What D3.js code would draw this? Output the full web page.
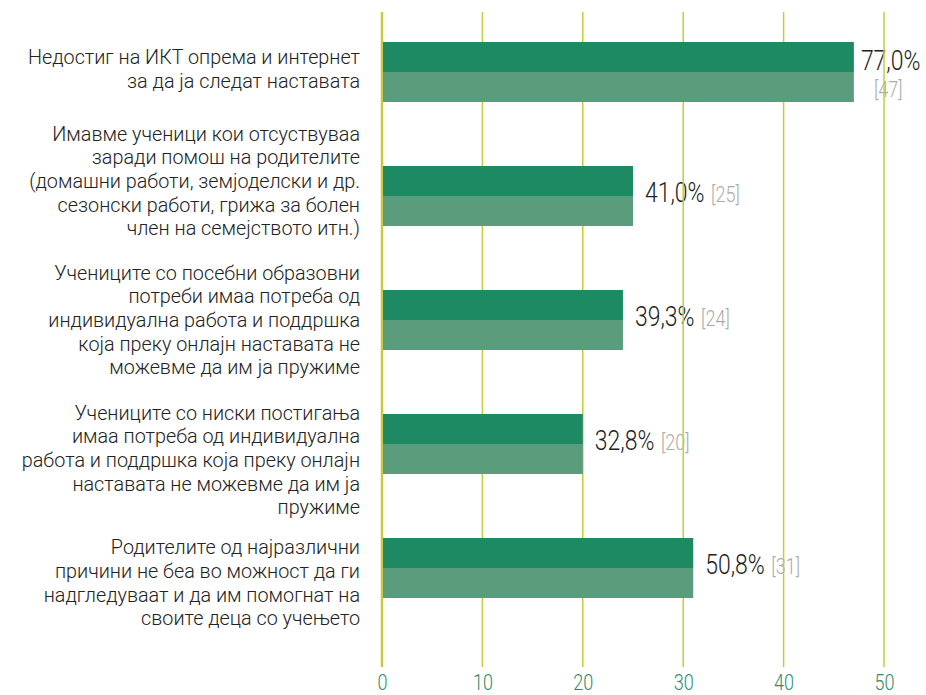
<!DOCTYPE html>
<html><head><meta charset="utf-8">
<script src="https://cdn.jsdelivr.net/npm/d3@7/dist/d3.min.js"></script>
<style>body{margin:0;background:#fff}svg{display:block}</style>
</head><body>
<svg id="c" width="926" height="695"></svg>
<script>
const categories = [
  ["Недостиг на ИКТ опрема и интернет", "за да ја следат наставата"],
  ["Имавме ученици кои отсуствуваа", "заради помош на родителите", "(домашни работи, земјоделски и др.", "сезонски работи, грижа за болен", "член на семејството итн.)"],
  ["Учениците со посебни образовни", "потреби имаа потреба од", "индивидуална работа и поддршка", "која преку онлајн наставата не", "можевме да им ја пружиме"],
  ["Учениците со ниски постигања", "имаа потреба од индивидуална", "работа и поддршка која преку онлајн", "наставата не можевме да им ја", "пружиме"],
  ["Родителите од најразлични", "причини не беа во можност да ги", "надгледуваат и да им помогнат на", "своите деца со учењето"]
];
const counts = [47, 25, 24, 20, 31];
const percents = ["77,0%", "41,0%", "39,3%", "32,8%", "50,8%"];
const ticks = [0, 10, 20, 30, 40, 50];

const labelShift = [-3, -15, 0, 16, 15];
const sx = 0.82;

const svg = d3.select("#c");
const x = d3.scaleLinear().domain([0, 50]).range([382, 884]);
const y = d3.scaleBand().domain(d3.range(categories.length)).range([10, 630]).paddingInner(0.516).paddingOuter(0.258);

// category labels
const lh = 23.7;
categories.forEach((lines, i) => {
  const cy = y(i) + y.bandwidth() / 2 + labelShift[i];
  const t = svg.append("text").attr("text-anchor", "end")
    .attr("font-family", "Roboto").attr("font-weight", 300).attr("font-size", 19.8)
    .attr("fill", "#222");
  lines.forEach((l, j) => {
    t.append("tspan").attr("x", 360)
      .attr("y", cy + (j - (lines.length - 1) / 2) * lh)
      .attr("dy", "0.35em").text(l);
  });
});

// value labels
counts.forEach((c, i) => {
  const cy = y(i) + y.bandwidth() / 2;
  if (i === 0) {
    svg.append("g").attr("transform", `translate(${x(c) + 7},${cy - 12}) scale(${sx},1)`)
      .append("text").attr("dy", "0.35em")
      .attr("font-family", "Roboto").attr("font-weight", 300).attr("font-size", 28).attr("fill", "#222")
      .text(percents[i]);
    svg.append("g").attr("transform", `translate(${x(c) + 20},${cy + 17}) scale(${sx},1)`)
      .append("text").attr("dy", "0.35em")
      .attr("font-family", "Roboto").attr("font-weight", 300).attr("font-size", 22).attr("fill", "#aaa")
      .text("[" + c + "]");
  } else {
    const t = svg.append("g").attr("transform", `translate(${x(c) + 12},${cy}) scale(${sx},1)`)
      .append("text").attr("dy", "0.35em")
      .attr("font-family", "Roboto").attr("font-weight", 300);
    t.append("tspan").attr("font-size", 28).attr("fill", "#222").text(percents[i]);
    t.append("tspan").attr("font-size", 22).attr("fill", "#aaa").attr("dx", 8).text("[" + c + "]");
  }
});

// gridlines
svg.append("g").selectAll("line").data(ticks).join("line")
  .attr("x1", d => x(d)).attr("x2", d => x(d))
  .attr("y1", 12).attr("y2", 667)
  .attr("stroke", "#c5cc3a")
  .attr("stroke-width", d => d === 0 ? 2.5 : 1.5);

// bars
const bars = svg.append("g");
counts.forEach((c, i) => {
  const h = y.bandwidth() / 2;
  bars.append("rect").attr("x", x(0) + 1).attr("y", y(i)).attr("width", x(c) - x(0) - 1).attr("height", h).attr("fill", "#1e8a64");
  bars.append("rect").attr("x", x(0) + 1).attr("y", y(i) + h).attr("width", x(c) - x(0) - 1).attr("height", h).attr("fill", "#5b9c7d");
});

// axis
const ax = svg.append("g").attr("transform", "translate(0,690)")
  .call(d3.axisBottom(x).tickValues(ticks).tickSize(0).tickPadding(0));
ax.select(".domain").remove();
ax.selectAll("text").attr("font-family", "Roboto").attr("font-weight", 300)
  .attr("font-size", 22).attr("fill", "#2e8c6a").attr("y", 0).attr("dy", "0")
  .attr("transform", "scale(0.82,1)");
</script>
</body></html>
